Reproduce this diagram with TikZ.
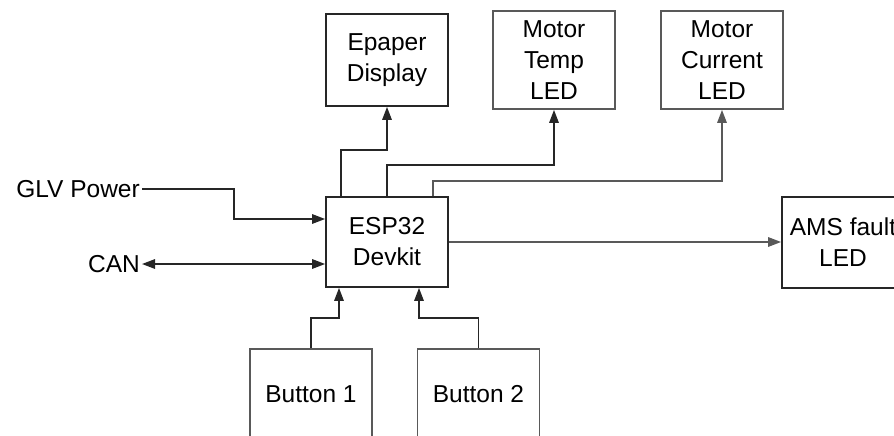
\documentclass[tikz,border=0pt]{standalone}
\usepackage{fontspec}
\setmainfont{Liberation Sans}
\usetikzlibrary{arrows.meta}
\begin{document}
\begin{tikzpicture}[x=1pt,y=-1pt,
  every node/.style={font=\fontsize{24.5}{31}\selectfont},
  blk/.style={draw=black!85,line width=1.8pt,minimum width=122pt,align=center,inner sep=0pt},
  lblk/.style={blk,draw=black!65},
  lbl/.style={inner sep=2pt},
  arr/.style={draw=black!85,line width=1.5pt,-{Triangle[length=13pt,width=9.5pt]}},
  larr/.style={arr,draw=black!65,-{Triangle[length=13pt,width=9.5pt]}},
  arrb/.style={arr,{Triangle[length=13pt,width=9.5pt]}-{Triangle[length=13pt,width=9.5pt]}}]
\useasboundingbox (0,0) rectangle (894,436);
\clip (0,0) rectangle (894,436);
\node[blk,minimum height=92pt] (epaper) at (387,60) {Epaper\\Display};
\node[lblk,minimum height=98pt] (mtemp) at (554,60) {Motor\\Temp\\LED};
\node[lblk,minimum height=98pt] (mcur) at (722,60) {Motor\\Current\\LED};
\node[blk,minimum height=91pt] (ams) at (843,242.5) {AMS fault\\LED};
\node[blk,minimum height=90pt] (esp) at (387,242) {ESP32\\Devkit};
\node[lblk,minimum height=90pt] (b1) at (311,394) {Button 1};
\node[lblk,minimum height=90pt] (b2) at (478.5,394) {Button 2};
\node[lbl,anchor=east] (glv) at (142,189) {GLV Power};
\node[lbl,anchor=east] (can) at (142,264) {CAN};
\draw[arr] (glv.east) -- ++(92,0) |- ([yshift=23pt]esp.west);
\draw[arrb] (can.east) -- (can.east -| esp.west);
\draw[arr] ([xshift=16pt]esp.north west) -- ++(0,-46) -| (epaper.south);
\draw[arr] (esp.north) -- ++(0,-31) -| (mtemp.south);
\draw[larr] ([xshift=46pt]esp.north) -- ++(0,-15) -| (mcur.south);
\draw[larr] (esp.east) -- (esp.east -| ams.west);
\draw[arr] (b1.north) -- ++(0,-30) -| ([xshift=-48pt]esp.south);
\draw[arr] (b2.north) -- ++(0,-30) -| ([xshift=32pt]esp.south);
\end{tikzpicture}
\end{document}
